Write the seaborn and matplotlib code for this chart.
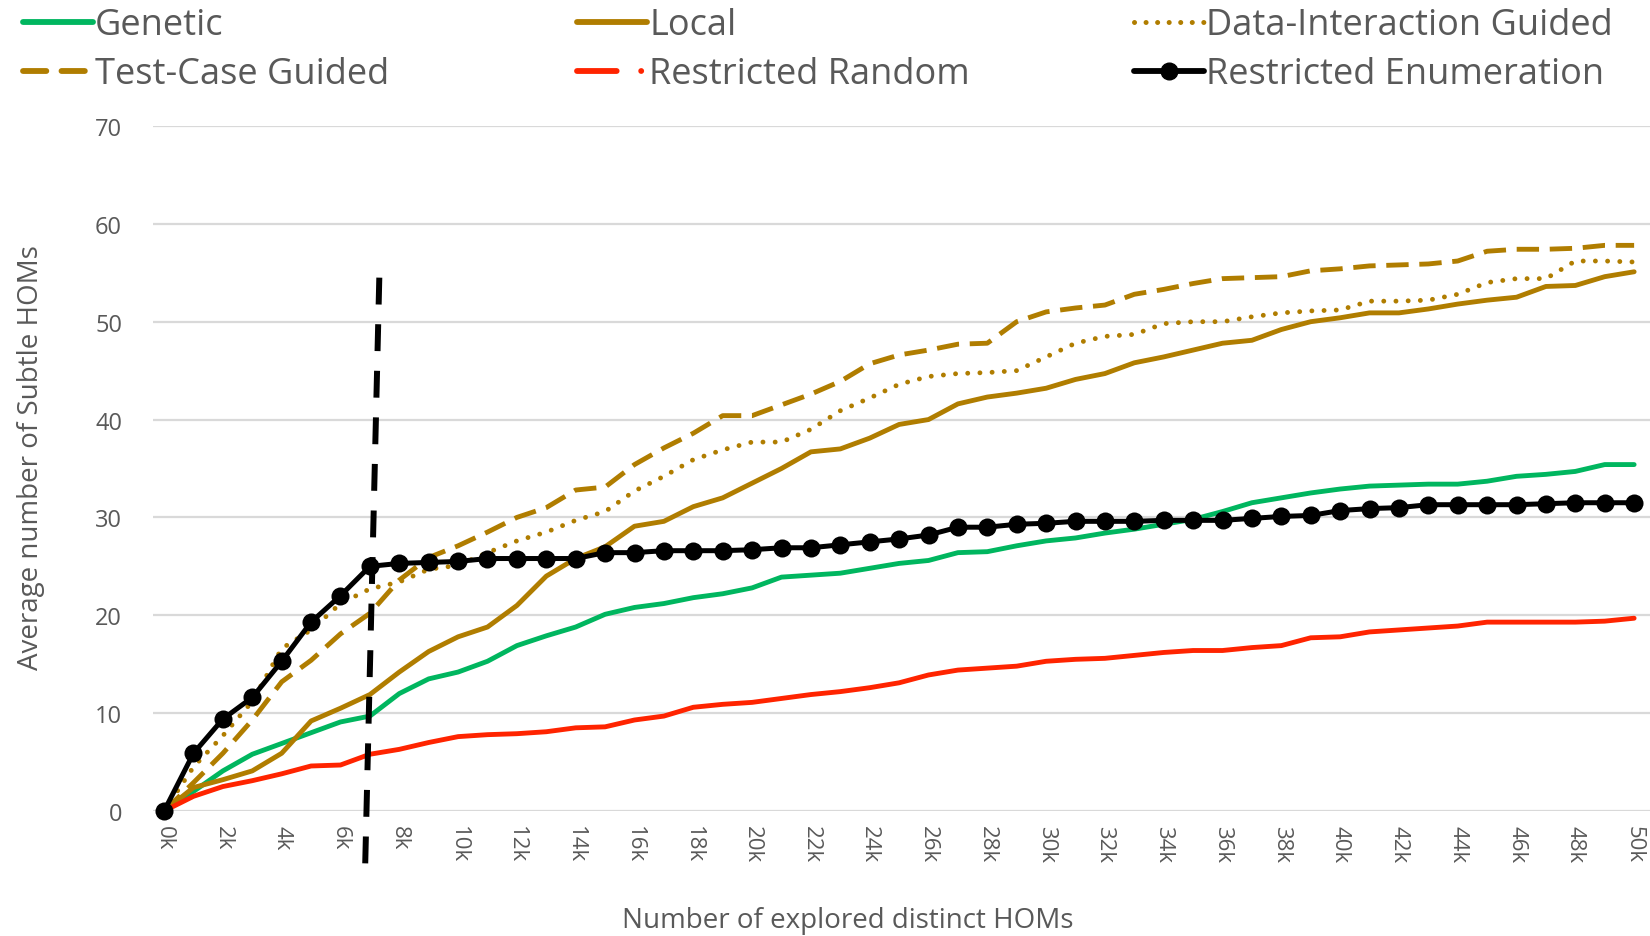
import matplotlib
matplotlib.use("Agg")
import matplotlib.pyplot as plt
from matplotlib import font_manager
from matplotlib.lines import Line2D
import seaborn as sns
import pandas as pd

# ---- data (x in thousands of explored distinct HOMs) ----
explored_k = list(range(0, 51))
x_ticks_k = list(range(0, 51, 2))
y_ticks = [0, 10, 20, 30, 40, 50, 60, 70]

genetic = [0, 2.0, 4.1, 5.8, 6.9, 8.0, 9.1, 9.7, 12.0, 13.5, 14.2,
           15.3, 16.9, 17.9, 18.8, 20.1, 20.8, 21.2, 21.8, 22.2, 22.8,
           23.9, 24.1, 24.3, 24.8, 25.3, 25.6, 26.4, 26.5, 27.1, 27.6,
           27.9, 28.4, 28.8, 29.3, 29.8, 30.6, 31.5, 32.0, 32.5, 32.9,
           33.2, 33.3, 33.4, 33.4, 33.7, 34.2, 34.4, 34.7, 35.4, 35.4]

local = [0, 2.4, 3.2, 4.1, 5.9, 9.2, 10.5, 11.9, 14.2, 16.3, 17.8,
         18.8, 21.0, 24.0, 25.8, 27.0, 29.1, 29.6, 31.1, 32.0, 33.5,
         35.0, 36.7, 37.0, 38.1, 39.5, 40.0, 41.6, 42.3, 42.7, 43.2,
         44.1, 44.7, 45.8, 46.4, 47.1, 47.8, 48.1, 49.2, 50.0, 50.4,
         50.9, 50.9, 51.3, 51.8, 52.2, 52.5, 53.6, 53.7, 54.6, 55.1]

data_interaction = [0, 4.5, 7.7, 11.2, 16.6, 18.5, 21.2, 22.7, 23.4, 24.7, 25.1,
                    26.4, 27.6, 28.5, 29.7, 30.6, 32.7, 34.2, 35.9, 36.9, 37.7,
                    37.7, 39.0, 40.9, 42.2, 43.6, 44.4, 44.7, 44.8, 45.0, 46.4,
                    47.8, 48.5, 48.7, 49.8, 50.0, 50.0, 50.5, 50.9, 51.1, 51.2,
                    52.1, 52.1, 52.2, 52.8, 54.0, 54.4, 54.4, 56.2, 56.2, 56.1]

test_case = [0, 2.9, 5.9, 9.3, 13.2, 15.4, 18.1, 20.2, 23.6, 25.9, 27.1,
             28.5, 30.0, 31.0, 32.8, 33.1, 35.4, 37.1, 38.6, 40.4, 40.4,
             41.5, 42.6, 43.9, 45.7, 46.6, 47.1, 47.7, 47.8, 50.0, 51.0,
             51.4, 51.7, 52.8, 53.3, 53.9, 54.4, 54.5, 54.6, 55.2, 55.4,
             55.7, 55.8, 55.9, 56.2, 57.2, 57.4, 57.4, 57.5, 57.8, 57.8]

restricted_random = [0, 1.5, 2.5, 3.1, 3.8, 4.6, 4.7, 5.8, 6.3, 7.0, 7.6,
                     7.8, 7.9, 8.1, 8.5, 8.6, 9.3, 9.7, 10.6, 10.9, 11.1,
                     11.5, 11.9, 12.2, 12.6, 13.1, 13.9, 14.4, 14.6, 14.8, 15.3,
                     15.5, 15.6, 15.9, 16.2, 16.4, 16.4, 16.7, 16.9, 17.7, 17.8,
                     18.3, 18.5, 18.7, 18.9, 19.3, 19.3, 19.3, 19.3, 19.4, 19.7]

restricted_enum = [0, 5.9, 9.4, 11.6, 15.3, 19.3, 22.0, 25.0, 25.3, 25.4, 25.5,
                   25.8, 25.8, 25.8, 25.8, 26.4, 26.4, 26.6, 26.6, 26.6, 26.7,
                   26.9, 26.9, 27.2, 27.5, 27.8, 28.2, 29.0, 29.0, 29.3, 29.4,
                   29.6, 29.6, 29.6, 29.7, 29.7, 29.7, 29.9, 30.1, 30.2, 30.7,
                   30.9, 31.0, 31.3, 31.3, 31.3, 31.3, 31.4, 31.5, 31.5, 31.5]

# cut-off marker drawn across the plot (x in k, y in HOMs)
cutoff_x = [7.32, 6.84]
cutoff_y = [54.5, -5.5]

# ---- styling ----
GREEN = "#00B65F"
GOLD = "#B07D00"
RED = "#FF2400"
TEXT = "#595959"

sns.set_theme(style="white")
available = {f.name for f in font_manager.fontManager.ttflist}
base_font = "Open Sans" if "Open Sans" in available else "DejaVu Sans"
plt.rcParams["font.family"] = [base_font, "DejaVu Sans"]

fig = plt.figure(figsize=(16.5, 9.37), dpi=100)
ax = fig.add_axes([0.0925, 0.1334, 0.9075, 0.7311])

frame = pd.DataFrame({
    "k": explored_k,
    "Genetic": genetic,
    "Local": local,
    "Data-Interaction Guided": data_interaction,
    "Test-Case Guided": test_case,
    "Restricted Random": restricted_random,
    "Restricted Enumeration": restricted_enum,
})

LW = 3.5
dotted = (0, (0.01, 2.5))
dashed = (0, (4.6, 2.2))

sns.lineplot(data=frame, x="k", y="Genetic", ax=ax, color=GREEN, lw=LW,
             clip_on=False, zorder=3)
sns.lineplot(data=frame, x="k", y="Local", ax=ax, color=GOLD, lw=LW,
             clip_on=False, zorder=3)
sns.lineplot(data=frame, x="k", y="Data-Interaction Guided", ax=ax, color=GOLD,
             lw=LW, linestyle=dotted, dash_capstyle="round", clip_on=False, zorder=3)
sns.lineplot(data=frame, x="k", y="Test-Case Guided", ax=ax, color=GOLD,
             lw=LW, linestyle=dashed, clip_on=False, zorder=3)
sns.lineplot(data=frame, x="k", y="Restricted Random", ax=ax, color=RED, lw=LW,
             clip_on=False, zorder=4)
sns.lineplot(data=frame, x="k", y="Restricted Enumeration", ax=ax, color="black",
             lw=3.6, marker="o", markersize=13, markeredgewidth=0,
             clip_on=False, zorder=5)

ax.plot(cutoff_x, cutoff_y, color="black", lw=4.3, linestyle=(0, (4.5, 3.3)),
        clip_on=False, zorder=6)

ax.set_xlim(-0.39, 50.54)
ax.set_ylim(0, 70)
ax.set_xticks(x_ticks_k)
ax.set_xticklabels([f"{v}k" for v in x_ticks_k], rotation=270, fontsize=16,
                   color=TEXT)
ax.set_yticks(y_ticks)
ax.set_yticklabels([str(v) for v in y_ticks], fontsize=17, color=TEXT)
ax.tick_params(axis="x", length=0, pad=10)
ax.tick_params(axis="y", length=0, pad=22)
ax.yaxis.grid(True, color="#D9D9D9", lw=1.6)
ax.xaxis.grid(False)
ax.set_axisbelow(True)
for s in ax.spines.values():
    s.set_visible(False)

ax.set_xlabel("Number of explored distinct HOMs", fontsize=20, color=TEXT,
              labelpad=32, x=0.4645)
ax.set_ylabel("Average number of Subtle HOMs", fontsize=20, color=TEXT,
              labelpad=36, y=0.518)

# ---- legend: three two-row columns across the top ----
def handle(color, **kw):
    return Line2D([], [], color=color, lw=kw.pop("lw", 4.2), **kw)

columns = [
    (0.0139, [(handle(GREEN, solid_capstyle="round"), "Genetic"),
              (handle(GOLD, linestyle=(0, (4.0, 2.6)), dash_capstyle="round"),
               "Test-Case Guided")]),
    (0.3497, [(handle(GOLD, solid_capstyle="round"), "Local"),
              (handle(RED, linestyle=(0, (6.8, 4.2, 0.01, 40)), dash_capstyle="round"),
               "Restricted Random")]),
    (0.6870, [(handle(GOLD, lw=3.6, linestyle=(0, (0.01, 2.3)), dash_capstyle="round"),
               "Data-Interaction Guided"),
              (handle("black", lw=4.2, marker="o", markersize=12, markevery=[1]),
               "Restricted Enumeration")]),
]
for x0, entries in columns:
    leg = fig.legend([h for h, _ in entries], [t for _, t in entries],
                     loc="upper left", bbox_to_anchor=(x0, 0.991), frameon=False,
                     fontsize=26, handlelength=1.95, handletextpad=0.05,
                     borderpad=0.0, borderaxespad=0.0, labelspacing=0.36)
    for t in leg.get_texts():
        t.set_color(TEXT)

fig.savefig("out.png", dpi=100)
